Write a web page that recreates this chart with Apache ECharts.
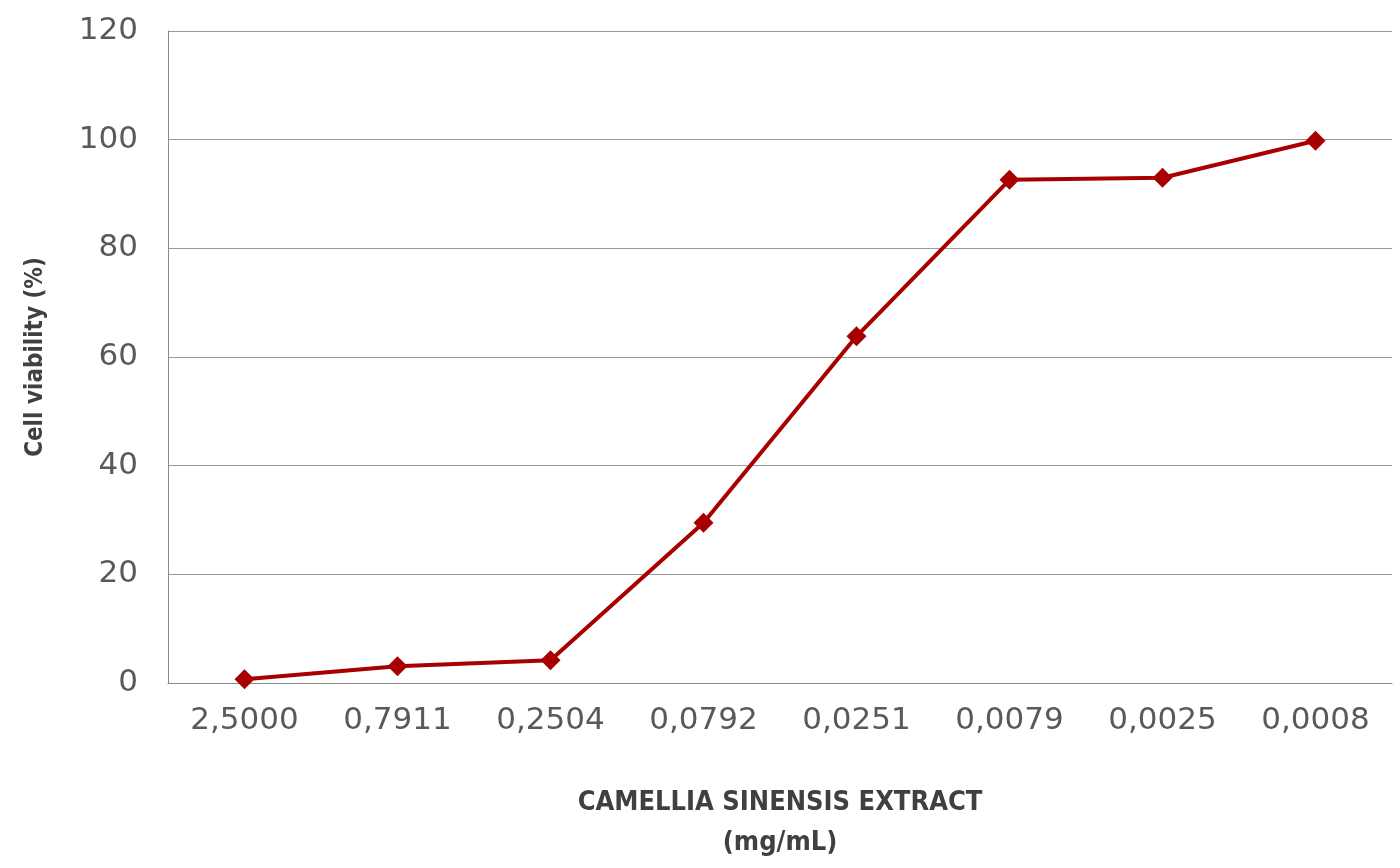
<!DOCTYPE html>
<html><head><meta charset="utf-8">
<script src="https://cdn.jsdelivr.net/npm/echarts@6/dist/echarts.min.js"></script>
<style>html,body{margin:0;background:#fff}#c{width:1400px;height:868px}</style>
</head><body><div id="c"></div>
<script>
const categories = ['2,5000','0,7911','0,2504','0,0792','0,0251','0,0079','0,0025','0,0008'];
const viability = [0.7, 3.1, 4.2, 29.5, 63.8, 92.6, 93.0, 99.8];
const yTicks = {min:0, max:120, interval:20};
const font = "'DejaVu Sans Condensed','DejaVu Sans',sans-serif";
const tickFont = "'DejaVu Sans',sans-serif";
const chart = echarts.init(document.getElementById('c'));
chart.setOption({
  animation:false,
  grid:{left:168,right:8,top:31,bottom:179},
  xAxis:{type:'category',data:categories,boundaryGap:true,
    axisLine:{lineStyle:{color:'#888'}},axisTick:{show:false},
    axisLabel:{color:'#595959',fontSize:31,fontFamily:tickFont,margin:22},
    name:'CAMELLIA SINENSIS EXTRACT\n(mg/mL)',nameLocation:'middle',nameGap:100,
    nameTextStyle:{color:'#404040',fontSize:27,fontWeight:'bold',fontFamily:font,lineHeight:40}},
  yAxis:{type:'value',min:yTicks.min,max:yTicks.max,interval:yTicks.interval,
    axisLine:{show:true,lineStyle:{color:'#888'}},axisTick:{show:false},
    splitLine:{lineStyle:{color:'#999',width:1}},
    axisLabel:{color:'#595959',fontSize:31,fontFamily:tickFont,margin:30},
    name:'Cell viability (%)',nameLocation:'middle',nameGap:120,
    nameTextStyle:{color:'#404040',fontSize:24,fontWeight:'bold',fontFamily:font}},
  series:[{type:'line',data:viability,symbol:'diamond',symbolSize:20,
    lineStyle:{color:'#a80000',width:4},itemStyle:{color:'#a80000'}}]
});
</script></body></html>
